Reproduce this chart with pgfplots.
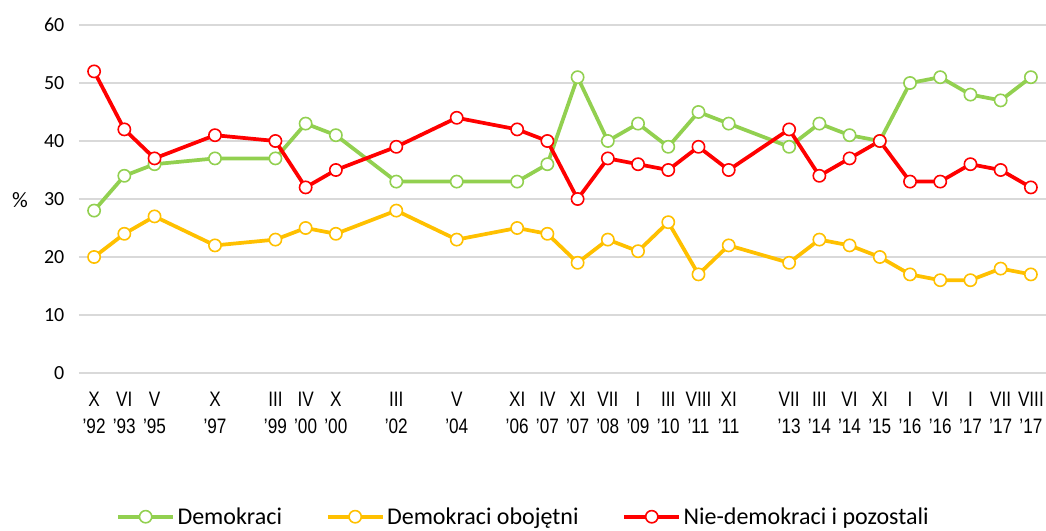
\documentclass[border=0pt]{standalone}
\usepackage{fontspec}
\setmainfont{Carlito}
\newfontfamily\condfont[FakeStretch=0.82]{Liberation Sans}
\usepackage{pgfplots}
\usepackage{pgfplotstable}
\pgfplotsset{compat=1.18}
\definecolor{cG}{RGB}{146,208,80}
\definecolor{cY}{RGB}{255,192,0}
\definecolor{cR}{RGB}{255,0,0}
\definecolor{cgrid}{RGB}{217,217,217}
\newcommand\myL[2]{{\condfont\fontsize{15.7}{20.2}\selectfont\begin{tabular}{@{}c@{}}#1\\’#2\end{tabular}}}

\pgfplotstableread{
x dem obo nie
0 28 20 52
1 34 24 42
2 36 27 37
4 37 22 41
6 37 23 40
7 43 25 32
8 41 24 35
10 33 28 39
12 33 23 44
14 33 25 42
15 36 24 40
16 51 19 30
17 40 23 37
18 43 21 36
19 39 26 35
20 45 17 39
21 43 22 35
23 39 19 42
24 43 23 34
25 41 22 37
26 40 20 40
27 50 17 33
28 51 16 33
29 48 16 36
30 47 18 35
31 51 17 32
}\datatab

\begin{document}
\begin{tikzpicture}
\path[use as bounding box] (-59.25pt,-118.5pt) rectangle (725.25pt,279.75pt);
\begin{axis}[
  scale only axis,
  width=725.25pt, height=261pt,
  xmin=-0.5, xmax=31.5, ymin=0, ymax=60,
  ytick={0,10,...,60},
  axis line style={draw=none},
  major tick length=0pt,
  ymajorgrids,
  grid style={cgrid, line width=1.1pt},
  /pgf/number format/assume math mode=true,
  xtick={0,1,2,4,6,7,8,10,12,14,15,16,17,18,19,20,21,23,24,25,26,27,28,29,30,31},
  xticklabels={\myL{X}{92},\myL{VI}{93},\myL{V}{95},\myL{X}{97},\myL{III}{99},\myL{IV}{00},\myL{X}{00},\myL{III}{02},\myL{V}{04},\myL{XI}{06},\myL{IV}{07},\myL{XI}{07},\myL{VII}{08},\myL{I}{09},\myL{III}{10},\myL{VIII}{11},\myL{XI}{11},\myL{VII}{13},\myL{III}{14},\myL{VI}{14},\myL{XI}{15},\myL{I}{16},\myL{VI}{16},\myL{I}{17},\myL{VII}{17},\myL{VIII}{17}},
  xticklabel style={yshift=-7.5pt},
  yticklabel style={font=\fontsize{15}{17}\selectfont, xshift=-7.5pt},
  ylabel={\%},
  ylabel style={at={(axis description cs:-0.061,0.497)}, rotate=-90, anchor=center, font=\fontsize{16.5}{18}\selectfont},
  legend style={at={(0.46,-0.413)}, anchor=center, draw=none, fill=none,
    font=\fontsize{18}{20}\selectfont,
    /tikz/every even column/.append style={column sep=31pt}},
  legend columns=3,
  legend cell align=left,
  legend image code/.code={\draw[mark repeat=2,mark phase=2] plot coordinates {(0pt,0pt) (20.5pt,0pt) (41pt,0pt)};},
  every axis plot/.append style={line width=2.8pt, mark=*, mark size=4.6pt, mark options={fill=white, line width=1.2pt}},
]
\addplot[cG] table[x=x,y=dem] {\datatab};
\addlegendentry{Demokraci}
\addplot[cY] table[x=x,y=obo] {\datatab};
\addlegendentry{Demokraci obojętni}
\addplot[cR] table[x=x,y=nie] {\datatab};
\addlegendentry{Nie-demokraci i pozostali}
\end{axis}
\end{tikzpicture}
\end{document}
